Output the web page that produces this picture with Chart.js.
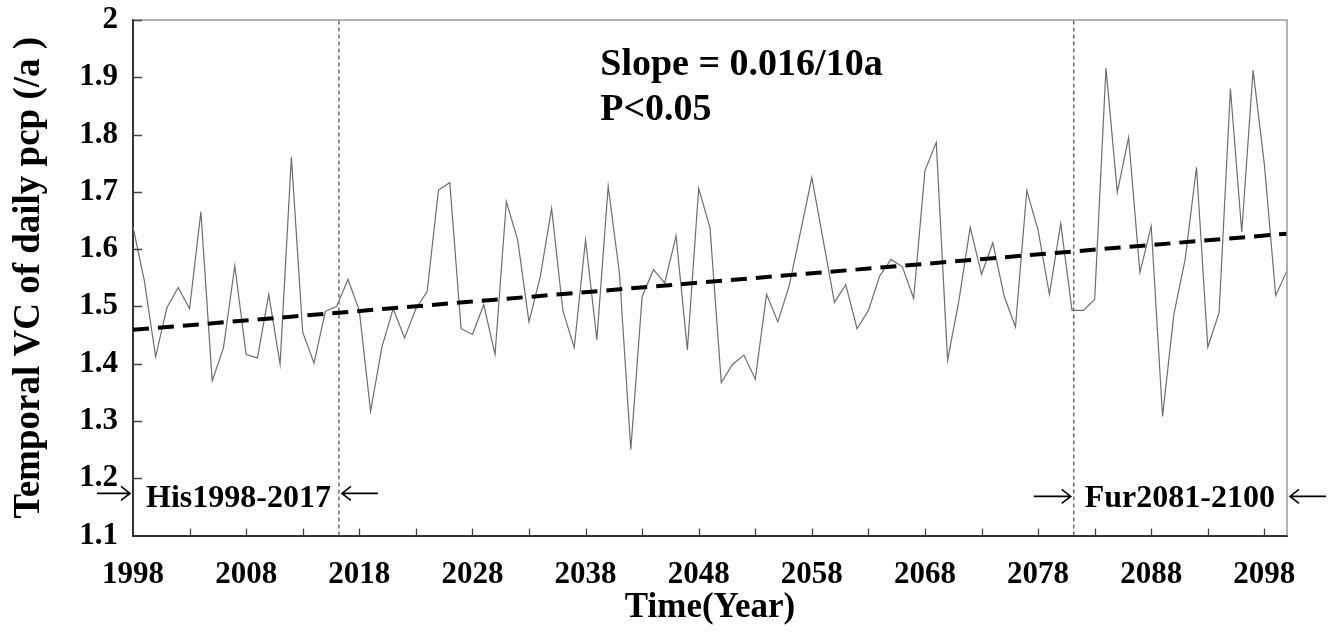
<!DOCTYPE html>
<html>
<head>
<meta charset="utf-8">
<script src="https://cdn.jsdelivr.net/npm/chart.js@4"></script>
<style>
  body { margin: 0; background: #fff; }
  canvas { display: block; }
</style>
</head>
<body>
<canvas id="vcChart" width="1343" height="637"></canvas>
<script>
// temporal VC of daily precipitation, one value per year from 1998
const firstYear = 1998;
const vcValues = [
  1.639, 1.545, 1.412, 1.498, 1.533, 1.496, 1.665, 1.370, 1.428, 1.571,
  1.416, 1.410, 1.521, 1.399, 1.761, 1.455, 1.401, 1.491, 1.500, 1.547,
  1.493, 1.317, 1.429, 1.496, 1.445, 1.496, 1.526, 1.703, 1.716, 1.461,
  1.451, 1.503, 1.416, 1.683, 1.616, 1.473, 1.552, 1.671, 1.492, 1.428,
  1.616, 1.442, 1.710, 1.557, 1.250, 1.517, 1.564, 1.541, 1.623, 1.424,
  1.706, 1.637, 1.367, 1.399, 1.415, 1.373, 1.521, 1.473, 1.536, 1.630,
  1.725, 1.616, 1.507, 1.538, 1.461, 1.493, 1.553, 1.582, 1.569, 1.514,
  1.737, 1.786, 1.406, 1.510, 1.638, 1.556, 1.611, 1.518, 1.464, 1.702,
  1.633, 1.521, 1.645, 1.493, 1.493, 1.512, 1.916, 1.699, 1.795, 1.559,
  1.640, 1.308, 1.486, 1.582, 1.743, 1.429, 1.489, 1.880, 1.630, 1.912,
  1.748, 1.519, 1.562
];
const years = vcValues.map((v, i) => firstYear + i);

// linear trend end points
const trendYears = [1998, 2100];
const trendValues = [1.459, 1.627];

// period boundaries (dashed vertical lines)
const markerYears = [2016.2, 2081.15];

const xLabelYears = [1998, 2008, 2018, 2028, 2038, 2048, 2058, 2068, 2078, 2088, 2098];
const xMinorStep = 5;
const yMin = 1.1, yMax = 2.0, yStep = 0.1;

const FONT = '"Liberation Serif", "Times New Roman", serif';

function arrow(ctx, xTail, xTip, yy) {
  const dir = xTip > xTail ? 1 : -1;
  ctx.beginPath();
  ctx.moveTo(xTail, yy);
  ctx.lineTo(xTip, yy);
  ctx.moveTo(xTip - dir * 9, yy - 7);
  ctx.lineTo(xTip, yy);
  ctx.lineTo(xTip - dir * 9, yy + 7);
  ctx.stroke();
}

const overlay = {
  id: 'overlay',
  afterDatasetsDraw(chart) {
    const { ctx, chartArea: a, scales: { x, y } } = chart;
    ctx.save();

    // grey top and right frame
    ctx.strokeStyle = '#9a9a9a';
    ctx.lineWidth = 1.5;
    ctx.beginPath();
    ctx.moveTo(a.left, a.top);
    ctx.lineTo(a.right, a.top);
    ctx.lineTo(a.right, a.bottom);
    ctx.stroke();

    // inward tick marks
    ctx.strokeStyle = '#444';
    ctx.lineWidth = 1.3;
    ctx.beginPath();
    for (let yr = firstYear + xMinorStep; yr < 2100; yr += xMinorStep) {
      const px = Math.round(x.getPixelForValue(yr)) + 0.5;
      ctx.moveTo(px, a.bottom);
      ctx.lineTo(px, a.bottom - 7);
    }
    for (let v = yMin + yStep; v < yMax + 0.01; v += yStep) {
      const py = Math.round(y.getPixelForValue(v)) + 0.5;
      ctx.moveTo(a.left, py);
      ctx.lineTo(a.left + 9, py);
    }
    ctx.stroke();

    // period labels with arrows
    const m1 = x.getPixelForValue(markerYears[0]);
    const m2 = x.getPixelForValue(markerYears[1]);
    const x0 = x.getPixelForValue(trendYears[0]);
    const x1 = x.getPixelForValue(trendYears[1]);
    const ly = y.getPixelForValue(1.17);
    ctx.fillStyle = '#000';
    ctx.font = 'bold 32px ' + FONT;
    ctx.textBaseline = 'middle';
    ctx.textAlign = 'right';
    ctx.fillText('His1998-2017', m1 - 8, ly + 3);
    ctx.textAlign = 'left';
    ctx.fillText('Fur2081-2100', m2 + 11, ly + 3);

    ctx.strokeStyle = '#000';
    ctx.lineWidth = 1.6;
    arrow(ctx, x0 - 36, x0 - 3, ly - 2);
    arrow(ctx, m1 + 39, m1 + 3, ly - 2);
    arrow(ctx, m2 - 40, m2 - 3, ly + 1);
    arrow(ctx, x1 + 39, x1 + 3, ly + 1);

    // slope text
    const sx = x.getPixelForValue(2039.3);
    ctx.font = 'bold 38px ' + FONT;
    ctx.textBaseline = 'alphabetic';
    ctx.fillText('Slope = 0.016/10a', sx, y.getPixelForValue(1.904));
    ctx.fillText('P<0.05', sx, y.getPixelForValue(1.826));

    ctx.restore();
  }
};

const ctx = document.getElementById('vcChart').getContext('2d');
new Chart(ctx, {
  type: 'line',
  data: {
    datasets: [
      {
        data: trendYears.map((yr, i) => ({ x: yr, y: trendValues[i] })),
        borderColor: '#000',
        borderWidth: 4,
        borderDash: [16, 9]
      },
      {
        data: years.map((yr, i) => ({ x: yr, y: vcValues[i] })),
        borderColor: '#6e6e6e',
        borderWidth: 1.2
      },
      ...markerYears.map(m => ({
        data: [{ x: m, y: yMin }, { x: m, y: yMax }],
        borderColor: '#555',
        borderWidth: 1.3,
        borderDash: [4, 3]
      }))
    ]
  },
  options: {
    responsive: false,
    animation: false,
    layout: { padding: { top: 20, right: 56, left: 0, bottom: 0 } },
    elements: { point: { radius: 0 }, line: { tension: 0 } },
    plugins: { legend: { display: false }, tooltip: { enabled: false } },
    scales: {
      x: {
        type: 'linear',
        min: 1998,
        max: 2100,
        afterBuildTicks: s => { s.ticks = xLabelYears.map(v => ({ value: v })); },
        afterFit: s => {
          s.height = 101.5;
          s.paddingLeft = 0;
          s.paddingRight = 0;
        },
        grid: { display: false, drawTicks: false },
        border: { display: true, color: '#333', width: 2 },
        ticks: {
          autoSkip: false,
          maxRotation: 0,
          padding: 21,
          color: '#000',
          font: { family: FONT, size: 31, weight: 'bold' },
          callback: v => String(v)
        },
        title: {
          display: true,
          text: 'Time(Year)',
          color: '#000',
          font: { family: FONT, size: 35, weight: 'bold', lineHeight: 1 },
          padding: { top: 0, bottom: 12 }
        }
      },
      y: {
        min: yMin,
        max: yMax,
        afterFit: s => {
          s.width = 133;
          s.paddingTop = 0;
          s.paddingBottom = 0;
        },
        grid: { display: false, drawTicks: false },
        border: { display: true, color: '#333', width: 2 },
        ticks: {
          stepSize: yStep,
          padding: 15,
          color: '#000',
          font: { family: FONT, size: 31, weight: 'bold' },
          callback: v => String(+v.toFixed(1))
        },
        title: {
          display: true,
          text: 'Temporal VC of daily pcp (/a )',
          color: '#000',
          font: { family: FONT, size: 37, weight: 'bold', lineHeight: 1 },
          padding: { top: 11, bottom: 0 }
        }
      }
    }
  },
  plugins: [overlay]
});
</script>
</body>
</html>
